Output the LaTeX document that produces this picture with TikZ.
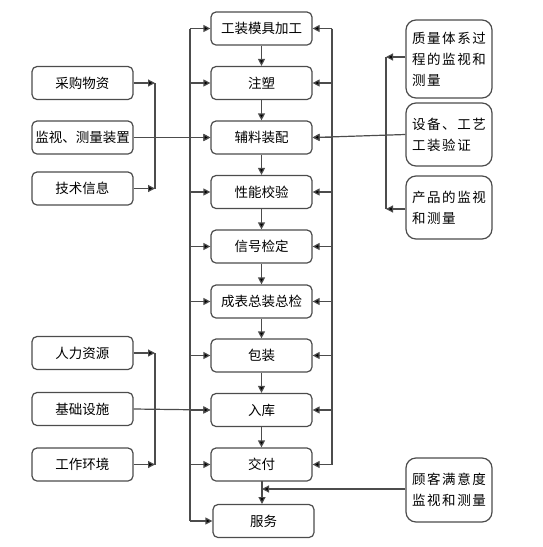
\documentclass[tikz,border=0pt]{standalone}
\usepackage{fontspec}
\setmainfont{Noto Sans CJK SC}
\usetikzlibrary{arrows.meta}
\begin{document}
\begin{tikzpicture}[x=1pt,y=-1pt,
  line/.style={draw=black!70,line width=1.2pt},
  arr/.style={line,-{Triangle[length=7pt,width=7pt,fill=black]}},
  mainbox/.style={draw=black!70,line width=1.2pt,rounded corners=5pt,minimum width=101pt,minimum height=33pt,inner sep=0pt,font=\fontsize{13.5pt}{16pt}\selectfont},
  sidebox/.style={draw=black!70,line width=1.2pt,rounded corners=10pt,minimum width=86pt,inner sep=0pt,text width=74pt,align=left,font=\fontsize{13.5pt}{21pt}\selectfont\addfontfeatures{LetterSpace=12}}]
\useasboundingbox (0,0) rectangle (542,547);
% central column
\node[mainbox] (m1) at (261.5,28.5) {工装模具加工};
\node[mainbox] (m2) at (261.5,83) {注塑};
\node[mainbox] (m3) at (261.5,137.5) {辅料装配};
\node[mainbox] (m4) at (261.5,192) {性能校验};
\node[mainbox] (m5) at (261.5,246.5) {信号检定};
\node[mainbox] (m6) at (261.5,301.5) {成表总装总检};
\node[mainbox] (m7) at (261.5,355.5) {包装};
\node[mainbox] (m8) at (261.5,410) {入库};
\node[mainbox] (m9) at (261.5,464.5) {交付};
\node[mainbox] (m10) at (263.5,521) {服务};
% left boxes
\node[mainbox] (l1) at (82.5,83) {采购物资};
\node[mainbox] (l2) at (82.5,137.5) {监视、测量装置};
\node[mainbox] (l3) at (82.5,188.5) {技术信息};
\node[mainbox] (l4) at (82.5,353) {人力资源};
\node[mainbox] (l5) at (82.5,409) {基础设施};
\node[mainbox] (l6) at (82.5,464.5) {工作环境};
% right boxes
\node[sidebox,minimum height=78pt] (r1) at (449,59) {质量体系过\\程的监视和\\测量};
\node[sidebox,minimum height=63pt] (r2) at (449,134.5) {设备、工艺\\工装验证};
\node[sidebox,minimum height=63pt] (r3) at (449,207.5) {产品的监视\\和测量};
\node[sidebox,minimum height=64pt] (r4) at (449,490) {顾客满意度\\监视和测量};
% central flow
\foreach \a/\b in {m1/m2,m2/m3,m3/m4,m4/m5,m5/m6,m6/m7,m7/m8,m8/m9}
  \draw[arr] (\a) -- (\b);
\coordinate (d1) at (262,481);
\coordinate (d2) at (262,504);
\draw[arr] (d1) -- (d2);
% left long bus
\coordinate (lt) at (190,28.5);
\coordinate (lb) at (190,521);
\draw[line] (lt) -- (lb);
\foreach \n in {m1,m2,m3,m4,m5,m6,m7,m8,m9,m10}
  \draw[arr] (190,0 |- \n.west) -- (\n.west);
% right long bus
\coordinate (rt) at (332,28.5);
\coordinate (rb) at (332,464.5);
\draw[line] (rt) -- (rb);
\foreach \n in {m1,m2,m3,m4,m5,m6,m7,m8,m9}
  \draw[arr] (332,0 |- \n.east) -- (\n.east);
% upper left group
\coordinate (ua) at (155,83);
\coordinate (ub) at (155,188.5);
\draw[line] (ua) -- (ub);
\draw[arr] (l1.east) -- (ua);
\draw[arr] (l3.east) -- (ub);
\draw[arr] (l2.east) -- (m3.west);
% lower left group
\coordinate (la) at (155,353);
\coordinate (lc) at (155,464.5);
\draw[line] (la) -- (lc);
\draw[arr] (l4.east) -- (la);
\draw[arr] (l6.east) -- (lc);
\draw[arr] (l5.east) -- (m8.west);
% right group
\coordinate (ra) at (386,57);
\coordinate (rc) at (386,209);
\draw[line] (ra) -- (rc);
\draw[arr] (r1.west |- ra) -- (ra);
\draw[arr] (r3.west |- rc) -- (rc);
\draw[arr] (r2.west) -- (m3.east);
% customer
\coordinate (cu) at (262,489);
\draw[arr] (r4.west |- cu) -- (cu);
\end{tikzpicture}
\end{document}
